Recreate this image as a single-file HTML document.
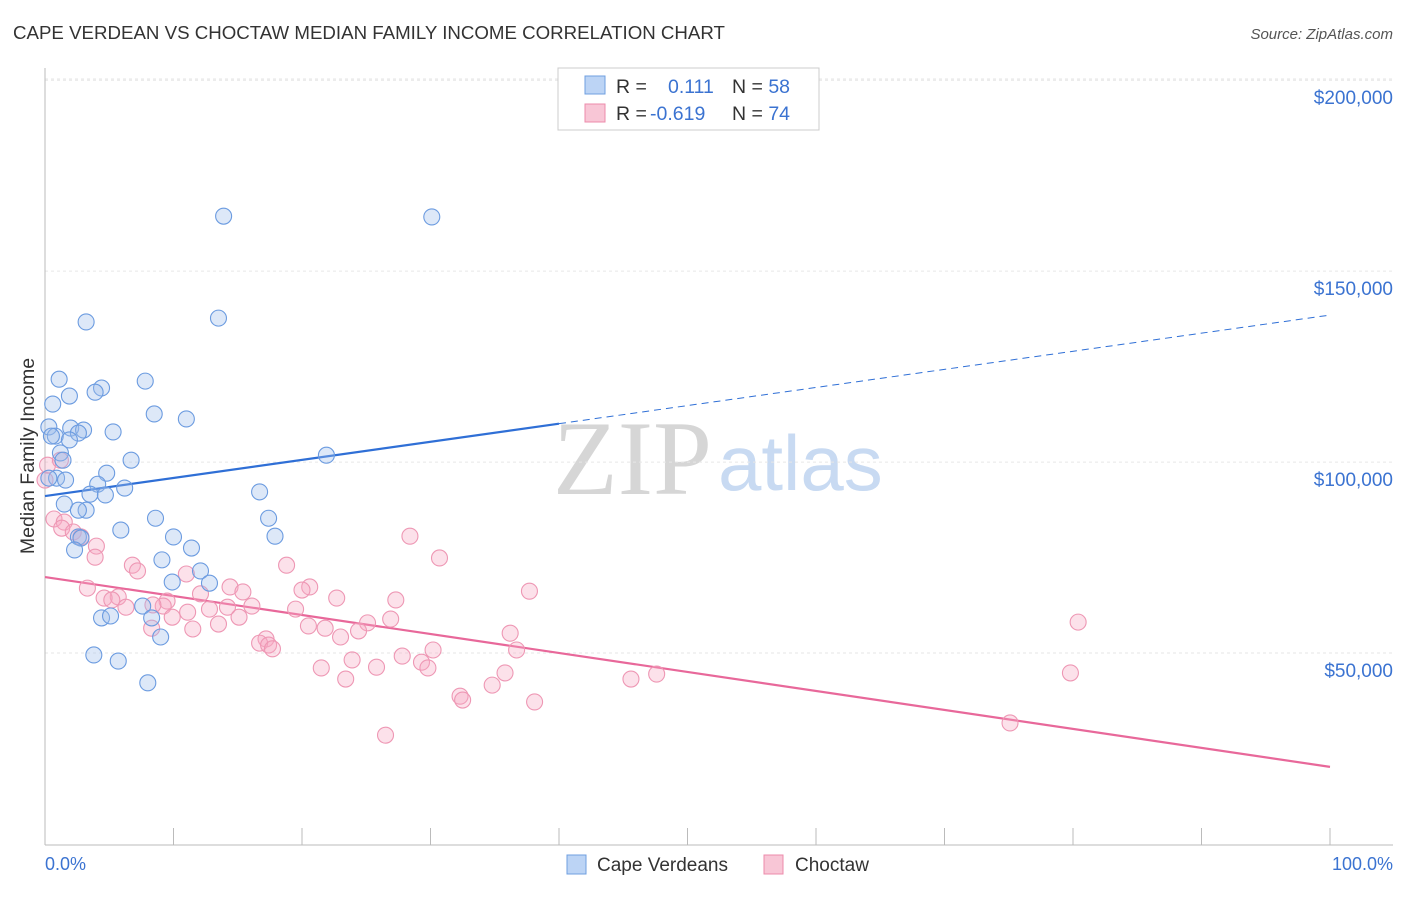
<!DOCTYPE html>
<html><head><meta charset="utf-8"><style>
body{margin:0;background:#fff;font-family:"Liberation Sans",sans-serif;}
</style></head><body>
<svg width="1406" height="892" viewBox="0 0 1406 892" xmlns="http://www.w3.org/2000/svg">
<text x="13" y="39" font-size="18.7" fill="#333">CAPE VERDEAN VS CHOCTAW MEDIAN FAMILY INCOME CORRELATION CHART</text>
<text x="1393" y="39" font-size="15" fill="#555" font-style="italic" text-anchor="end">Source: ZipAtlas.com</text>
<text x="0" y="0" transform="translate(34,456) rotate(-90)" font-size="19.5" fill="#333" text-anchor="middle">Median Family Income</text>
<g>
<text x="553" y="494" font-size="106" font-family="Liberation Serif,serif" fill="#d6d6d6">ZIP</text>
<text x="718" y="490" font-size="78" fill="#c8daf2">atlas</text>
</g>
<g id="grid"></g><g id="axes"></g><g id="trends"></g><g id="points"></g>
<g>
<rect x="558" y="68" width="261" height="62" fill="#fff" stroke="#ccc"/>
<rect x="585" y="76" width="20" height="18" fill="#bcd4f5" stroke="#6f9fe0"/>
<rect x="585" y="104" width="20" height="18" fill="#f8c6d6" stroke="#ec8bab"/>
<text x="616" y="93" font-size="19.5" fill="#333">R = <tspan fill="#3b73d1" x="668">0.111</tspan><tspan x="732">N = </tspan><tspan fill="#3b73d1">58</tspan></text>
<text x="616" y="120" font-size="19.5" fill="#333">R = <tspan fill="#3b73d1" x="650">-0.619</tspan><tspan x="732">N = </tspan><tspan fill="#3b73d1">74</tspan></text>
</g>
<g>
<rect x="567" y="855" width="19" height="19" fill="#bcd4f5" stroke="#6f9fe0"/>
<text x="597" y="871" font-size="19" fill="#333">Cape Verdeans</text>
<rect x="764" y="855" width="19" height="19" fill="#f8c6d6" stroke="#ec8bab"/>
<text x="795" y="871" font-size="19" fill="#333">Choctaw</text>
</g>
<text x="45" y="870" font-size="18" fill="#3b73d1">0.0%</text>
<text x="1393" y="870" font-size="18" fill="#3b73d1" text-anchor="end">100.0%</text>
</svg>
<script>
const yTicks=[50000,100000,150000,200000];
const yTickLabels=["$50,000","$100,000","$150,000","$200,000"];
const xTicks=[0,10,20,30,40,50,60,70,80,90,100];
const blueX=[13.9,30.1,3.2,13.5,1.1,7.8,4.4,3.9,1.9,0.6,8.5,11.0,0.3,2.0,3.0,5.3,2.6,0.8,1.9,1.2,6.7,21.9,1.4,4.8,0.9,1.6,4.1,6.2,3.5,4.7,16.7,1.5,3.2,2.6,8.6,17.4,5.9,17.9,10.0,2.6,2.8,2.3,11.4,9.1,12.1,9.9,12.8,7.6,8.3,4.4,5.1,9.0,3.8,5.7,8.0,0.3,0.5];
const blueY=[164.4,164.2,136.7,137.7,121.7,121.2,119.4,118.3,117.3,115.2,112.6,111.3,109.2,108.9,108.4,107.9,107.6,106.8,105.8,102.4,100.5,101.8,100.5,97.1,95.8,95.3,94.2,93.2,91.6,91.4,92.2,89.0,87.4,87.4,85.3,85.3,82.2,80.6,80.4,80.4,80.1,77.0,77.5,74.4,71.5,68.6,68.3,62.3,59.2,59.2,59.7,54.2,49.5,47.9,42.2,95.8,106.8];
const pinkX=[0.7,1.5,1.3,2.2,4.0,3.9,2.8,28.4,30.7,6.8,7.2,18.8,11.0,3.3,14.4,20.6,20.0,15.4,12.1,5.7,4.6,5.2,9.5,9.2,22.7,27.3,37.7,8.4,6.3,14.2,16.1,19.5,12.8,11.1,9.9,15.1,26.9,25.1,20.5,13.5,24.4,21.8,11.5,8.3,80.4,23.0,17.2,16.7,17.4,17.7,36.2,30.2,27.8,36.7,29.3,29.8,23.9,25.8,21.5,35.8,23.4,45.6,47.6,79.8,34.8,32.3,32.5,38.1,75.1,26.5,0,0.2,1.2];
const pinkY=[85.1,84.3,82.7,81.7,78.0,75.1,80.4,80.6,74.9,73.0,71.5,73.0,70.7,67.0,67.3,67.3,66.5,66.0,65.5,64.7,64.4,63.9,63.6,62.3,64.4,63.9,66.2,62.6,62.0,62.0,62.3,61.5,61.5,60.7,59.4,59.4,58.9,57.9,57.1,57.6,55.8,56.5,56.3,56.5,58.1,54.2,53.7,52.6,52.1,51.1,55.2,50.8,49.2,50.8,47.6,46.1,48.2,46.3,46.1,44.8,43.2,43.2,44.5,44.8,41.6,38.7,37.7,37.2,31.7,28.5,95.3,99.2,100.5];
const blueTrend=[91.1,138.5];
const pinkTrend=[69.9,20.2];
const NS="http://www.w3.org/2000/svg";
const xs=p=>45+p*12.85;
const ys=v=>844-v*0.003819;
function mk(t,a,parent){const e=document.createElementNS(NS,t);for(const k in a)e.setAttribute(k,a[k]);document.getElementById(parent).appendChild(e);return e;}
yTicks.forEach((v,i)=>{
 const l=mk('line',{x1:45,x2:1393,y1:ys(v),y2:ys(v),stroke:'#e6e6e6','stroke-dasharray':'3,3'},'grid');
 
 
 const t=mk('text',{x:1393,y:ys(v)+24,'font-size':19,fill:'#3b73d1','text-anchor':'end'},'grid');
 t.textContent=yTickLabels[i];
 
 
});
const topGrid=mk('line',{x1:45,x2:1393,y1:79,y2:79,stroke:'#e6e6e6','stroke-dasharray':'3,3'},'grid');


const ya=mk('line',{x1:45,x2:45,y1:68,y2:845,stroke:'#bbb'},'axes');


const xa=mk('line',{x1:45,x2:1393,y1:845,y2:845,stroke:'#bbb'},'axes');


xTicks.forEach(p=>{
 const t=mk('line',{x1:xs(p),x2:xs(p),y1:828,y2:845,stroke:'#bbb'},'axes');
 
 
});
function drawPts(X,Y,fill,stroke,name){
 X.forEach((x,i)=>{
  const c=mk('circle',{cx:xs(x),cy:ys(Y[i]*1000),r:8,fill:fill,'fill-opacity':0.35,stroke:stroke,'stroke-width':1.1},'points');
  
  
 });
}
drawPts(pinkX,pinkY,'#f5a9c2','#ee97b4','choctaw-point');
drawPts(blueX,blueY,'#9dbeec','#6b9be0','cape-verdean-point');
const bAt=p=>blueTrend[0]+(blueTrend[1]-blueTrend[0])*p/100;
const b1=mk('line',{x1:xs(0),y1:ys(bAt(0)*1000),x2:xs(40),y2:ys(bAt(40)*1000),stroke:'#2f6fd6','stroke-width':2.2},'trends');


const b2=mk('line',{x1:xs(40),y1:ys(bAt(40)*1000),x2:xs(100),y2:ys(bAt(100)*1000),stroke:'#2f6fd6','stroke-width':1,'stroke-dasharray':'7,5'},'trends');


const p1=mk('line',{x1:xs(0),y1:ys(pinkTrend[0]*1000),x2:xs(100),y2:ys(pinkTrend[1]*1000),stroke:'#e8689a','stroke-width':2.2},'trends');


</script>
</body></html>
